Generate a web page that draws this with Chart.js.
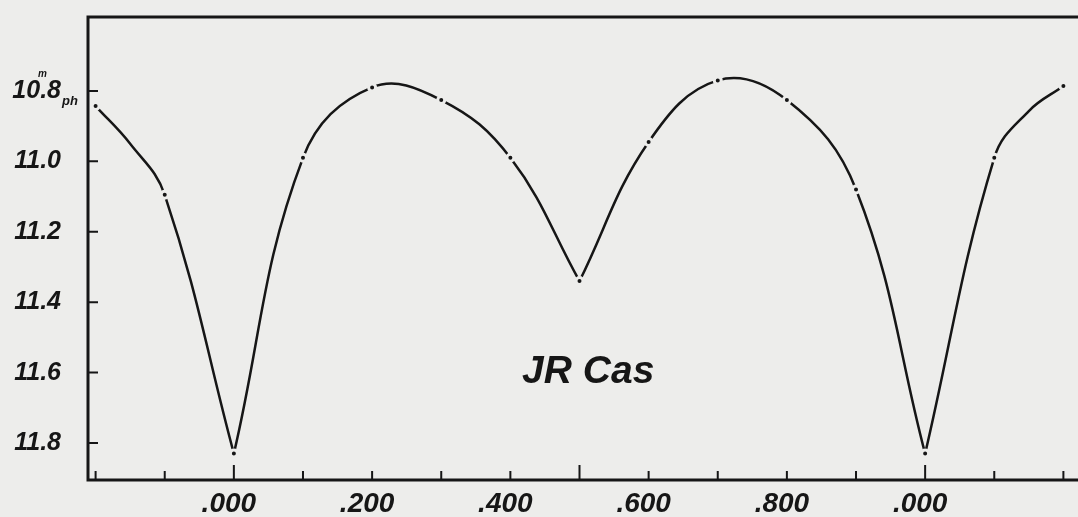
<!DOCTYPE html>
<html>
<head>
<meta charset="utf-8">
<script src="https://cdn.jsdelivr.net/npm/chart.js@4.4.1/dist/chart.umd.min.js"></script>
<style>
  html, body { margin: 0; padding: 0; background: #ededeb; }
  #wrap { width: 1078px; height: 517px; }
</style>
</head>
<body>
<div id="wrap"><canvas id="lightCurve"></canvas></div>
<script>
"use strict";
// normal points of the light curve (phase, photographic magnitude)
const phases = [-0.2, -0.1, 0.0, 0.1, 0.2, 0.3, 0.4, 0.5, 0.6, 0.7, 0.8, 0.9, 1.0, 1.1, 1.2];
const mags = [10.843, 11.095, 11.83, 10.99, 10.79, 10.826, 10.99, 11.34, 10.945, 10.77, 10.826, 11.08, 11.83, 10.99, 10.786];
const curvePhases = [-0.15, 1.15];
const curveMags = [10.95, 10.857];
// the curve is broken at the minima so they stay pointed
const minimaPhases = [0.0, 0.5, 1.0];
const xLabelPhases = [0, 0.2, 0.4, 0.6, 0.8, 1.0];
const xLabels = ['.000', '.200', '.400', '.600', '.800', '.000'];
const yTicks = [10.8, 11.0, 11.2, 11.4, 11.6, 11.8];
const starName = 'JR Cas';

const ink = '#161616';
const paper = '#ededeb';
const family = '"Liberation Sans", Arial, sans-serif';

let dots = phases.map((p, i) => ({ x: p, y: mags[i] }));
let traced = dots.concat(curvePhases.map((p, i) => ({ x: p, y: curveMags[i] })));
traced.sort((a, b) => a.x - b.x);

let datasets = [{
    label: 'points',
    data: dots,
    showLine: false,
    pointRadius: 3.5,
    pointBackgroundColor: ink,
    pointBorderColor: paper,
    pointBorderWidth: 3,
    order: 0
}];
// one line per branch between minima
let bounds = [-Infinity].concat(minimaPhases, [Infinity]);
for (let i = 0; i < bounds.length - 1; i++) {
    let part = traced.filter(pt => pt.x >= bounds[i] && pt.x <= bounds[i + 1]);
    datasets.push({
        label: 'curve',
        data: part,
        showLine: true,
        borderColor: ink,
        borderWidth: 2.5,
        tension: 0.4,
        pointRadius: 0,
        order: 1
    });
}

// no extra room for labels hanging over the ends of the axes
function noPadding(scale) {
    scale.paddingTop = 0;
    scale.paddingBottom = 0;
    scale.paddingLeft = 0;
    scale.paddingRight = 0;
}

// frame, inward tick marks and the extra lettering
const decorations = {
    id: 'decorations',
    afterDraw(chart) {
        const { ctx, chartArea: a, scales: { x, y } } = chart;
        ctx.save();
        ctx.strokeStyle = ink;
        ctx.fillStyle = ink;
        ctx.lineWidth = 3;
        ctx.beginPath();
        ctx.moveTo(chart.width + 5, a.top);
        ctx.lineTo(a.left, a.top);
        ctx.lineTo(a.left, a.bottom);
        ctx.lineTo(chart.width + 5, a.bottom);
        ctx.stroke();

        ctx.lineWidth = 2;
        ctx.beginPath();
        for (let k = -2; k <= 12; k++) {
            let px = x.getPixelForValue(k / 10);
            let len = (k % 5 === 0) ? 15 : 9;
            ctx.moveTo(px, a.bottom);
            ctx.lineTo(px, a.bottom - len);
        }
        yTicks.forEach(v => {
            let py = y.getPixelForValue(v);
            ctx.moveTo(a.left, py);
            ctx.lineTo(a.left + 10, py);
        });
        ctx.stroke();

        ctx.font = 'italic bold 39px ' + family;
        ctx.textAlign = 'left';
        ctx.textBaseline = 'alphabetic';
        ctx.fillText(starName, x.getPixelForValue(0.417), y.getPixelForValue(11.63));

        let topY = y.getPixelForValue(yTicks[0]);
        ctx.font = 'italic bold 10px ' + family;
        ctx.fillText('m', a.left - 50, topY - 14);
        ctx.font = 'italic bold 13px ' + family;
        ctx.fillText('ph', a.left - 26, topY + 14);
        ctx.restore();
    }
};

const config = {
    type: 'scatter',
    data: { datasets: datasets },
    options: {
        responsive: true,
        maintainAspectRatio: false,
        animation: false,
        layout: { padding: { top: 17, right: 0, bottom: 0, left: 0 } },
        plugins: {
            legend: { display: false },
            tooltip: { enabled: false }
        },
        scales: {
            x: {
                type: 'linear',
                min: -0.211,
                max: 1.211,
                afterBuildTicks: scale => {
                    scale.ticks = xLabelPhases.map(v => ({ value: v }));
                },
                afterFit: scale => {
                    scale.height = 37;
                    noPadding(scale);
                },
                grid: { display: false, drawTicks: false },
                border: { display: false },
                ticks: {
                    padding: 7,
                    labelOffset: -5,
                    maxRotation: 0,
                    color: ink,
                    font: { family: family, size: 28, style: 'italic', weight: 'bold' },
                    callback: (value) => {
                        let i = xLabelPhases.findIndex(p => Math.abs(p - value) < 1e-6);
                        return i < 0 ? '' : xLabels[i];
                    }
                }
            },
            y: {
                type: 'linear',
                reverse: true,
                min: 10.59,
                max: 11.905,
                afterBuildTicks: scale => {
                    scale.ticks = yTicks.map(v => ({ value: v }));
                },
                afterFit: scale => {
                    scale.width = 88;
                    noPadding(scale);
                },
                grid: { display: false, drawTicks: false },
                border: { display: false },
                ticks: {
                    padding: 27,
                    color: ink,
                    font: { family: family, size: 25, style: 'italic', weight: 'bold' },
                    callback: (value) => value.toFixed(1)
                }
            }
        }
    },
    plugins: [decorations]
};

new Chart(document.getElementById('lightCurve'), config);
</script>
</body>
</html>
